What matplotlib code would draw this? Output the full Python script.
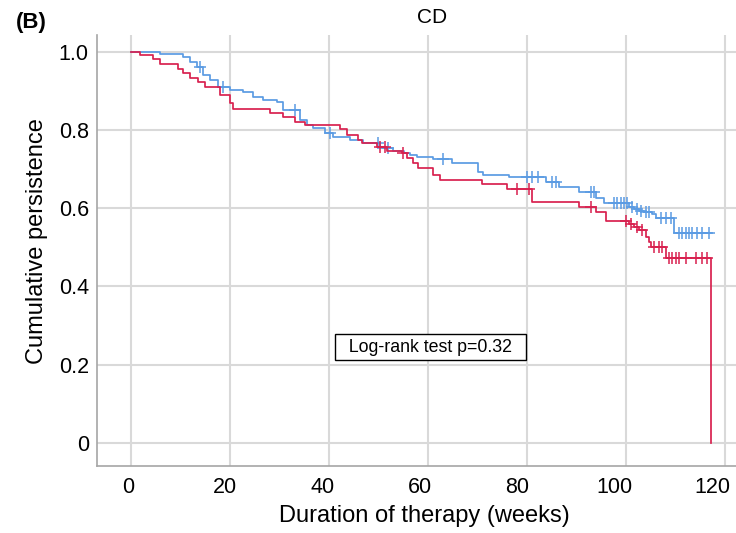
import numpy as np
import matplotlib
matplotlib.use("Agg")
import matplotlib.pyplot as plt
from matplotlib.transforms import ScaledTranslation

plt.rcParams["font.family"] = ["Liberation Sans", "DejaVu Sans"]

# Kaplan-Meier style step data (weeks, survival after event)
blue_t = [0, 5.8, 10.5, 11.9, 13.3, 14.5, 15.9, 17.5, 20.0, 22.6, 24.6, 26.6,
          29.4, 30.6, 34.1, 35.5, 36.7, 39.1, 40.7, 44.2, 46.8, 50.2, 52.8,
          55.2, 56.3, 57.7, 60.9, 64.9, 70.0, 71.0, 76.4, 83.9, 86.5, 90.5,
          94.0, 95.6, 100.6, 101.6, 102.6, 103.6, 105.2, 106.0, 109.7, 117.3]
blue_s = [1.0, 0.995, 0.987, 0.974, 0.962, 0.941, 0.928, 0.910, 0.903, 0.898,
          0.885, 0.877, 0.872, 0.852, 0.825, 0.813, 0.806, 0.793, 0.783, 0.775,
          0.767, 0.754, 0.747, 0.742, 0.737, 0.731, 0.726, 0.716, 0.693, 0.685,
          0.680, 0.668, 0.655, 0.642, 0.627, 0.614, 0.604, 0.598, 0.594, 0.590,
          0.585, 0.575, 0.537, 0.537]
blue_cens = [13.9, 18.5, 33.1, 40.1, 49.8, 51.8, 62.9, 80.0, 81.0, 82.1, 85.1,
             85.9, 92.9, 93.5, 97.6, 98.2, 99.0, 99.6, 100.2, 101.2, 102.2,
             103.0, 104.0, 104.6, 107.1, 108.1, 109.1, 110.7, 111.3, 112.1,
             112.7, 113.3, 114.3, 115.3, 116.7]

red_t = [0, 1.8, 4.4, 5.8, 9.5, 10.5, 11.9, 13.5, 14.9, 17.9, 20.0, 20.6, 28.0,
         30.6, 33.1, 35.1, 42.1, 43.5, 45.8, 46.6, 49.6, 51.6, 54.8, 55.8, 56.9,
         57.9, 60.9, 62.3, 70.8, 76.0, 81.0, 90.5, 94.0, 96.0, 100.6, 101.6,
         102.6, 104.0, 104.6, 105.0, 108.1, 117.1]
red_s = [1.0, 0.992, 0.982, 0.969, 0.957, 0.946, 0.934, 0.923, 0.910, 0.890,
         0.870, 0.854, 0.844, 0.834, 0.821, 0.813, 0.803, 0.788, 0.775, 0.767,
         0.757, 0.747, 0.742, 0.729, 0.716, 0.703, 0.685, 0.673, 0.662, 0.650,
         0.616, 0.604, 0.591, 0.568, 0.560, 0.553, 0.545, 0.527, 0.514, 0.501,
         0.473, 0.0]
red_cens = [50.2, 51.2, 55.0, 78.0, 80.4, 92.9, 100.0, 101.0, 102.1, 103.2,
            105.6, 106.7, 107.3, 108.7, 109.3, 110.1, 110.7, 112.1, 114.1,
            115.3, 116.3]

x_ticks = [0, 20, 40, 60, 80, 100, 120]
y_ticks = [0, 0.2, 0.4, 0.6, 0.8, 1.0]
y_labels = ["0", "0.2", "0.4", "0.6", "0.8", "1.0"]

BLUE = "#5b9be3"
RED = "#d8214f"
GRID = "#d9d9d9"
SPINE = "#a6a6a6"


def surv_at(t, times, surv):
    i = np.searchsorted(times, t, side="right") - 1
    return np.asarray(surv)[i]


fig = plt.figure(figsize=(7.36, 5.33), dpi=100)
ax = fig.add_axes([0.132, 0.126, 0.868, 0.808])

ax.step(blue_t, blue_s, where="post", color=BLUE, lw=1.25, zorder=3)
ax.step(red_t, red_s, where="post", color=RED, lw=1.25, zorder=4)
ax.plot(blue_cens, surv_at(blue_cens, blue_t, blue_s), ls="none", marker="+",
        ms=8, mew=1.1, color=BLUE, zorder=3)
ax.plot(red_cens, surv_at(red_cens, red_t, red_s), ls="none", marker="+",
        ms=8, mew=1.1, color=RED, zorder=4)

ax.set_xlim(-6.9, 122.2)
ax.set_ylim(-0.059, 1.043)
ax.set_xticks(x_ticks)
ax.set_yticks(y_ticks)
ax.set_yticklabels(y_labels)
ax.tick_params(length=0, labelsize=15.5)
ax.tick_params(axis="x", pad=8)
ax.tick_params(axis="y", pad=6)
# SPSS places the x labels slightly left of their grid lines
for val, lab in zip(x_ticks, ax.get_xticklabels()):
    dx = -(3.5 + 0.08 * val) / fig.dpi
    lab.set_transform(lab.get_transform()
                      + ScaledTranslation(dx, 0, fig.dpi_scale_trans))
ax.grid(True, color=GRID, lw=1.5)
ax.set_axisbelow(True)
for side in ("top", "right"):
    ax.spines[side].set_visible(False)
for side in ("left", "bottom"):
    ax.spines[side].set_color(SPINE)
    ax.spines[side].set_linewidth(1.2)

ax.set_xlabel("Duration of therapy (weeks)", fontsize=17, labelpad=6)
ax.xaxis.set_label_coords(0.5125, -0.09)
ax.set_ylabel("Cumulative persistence", fontsize=17, labelpad=8)
ax.yaxis.label.set_y(0.521)

ax.text(60.5, 0.245, "  Log-rank test p=0.32  ", fontsize=12.8, ha="center",
        va="center", zorder=5,
        bbox=dict(boxstyle="square,pad=0.25", fc="white", ec="black", lw=1))

fig.text(0.587, 0.967, "CD", fontsize=15, ha="center", va="center")
fig.text(0.022, 0.958, "(B)", fontsize=16, fontweight="bold", ha="left",
         va="center")

fig.savefig("out.png", dpi=100, facecolor="white")
